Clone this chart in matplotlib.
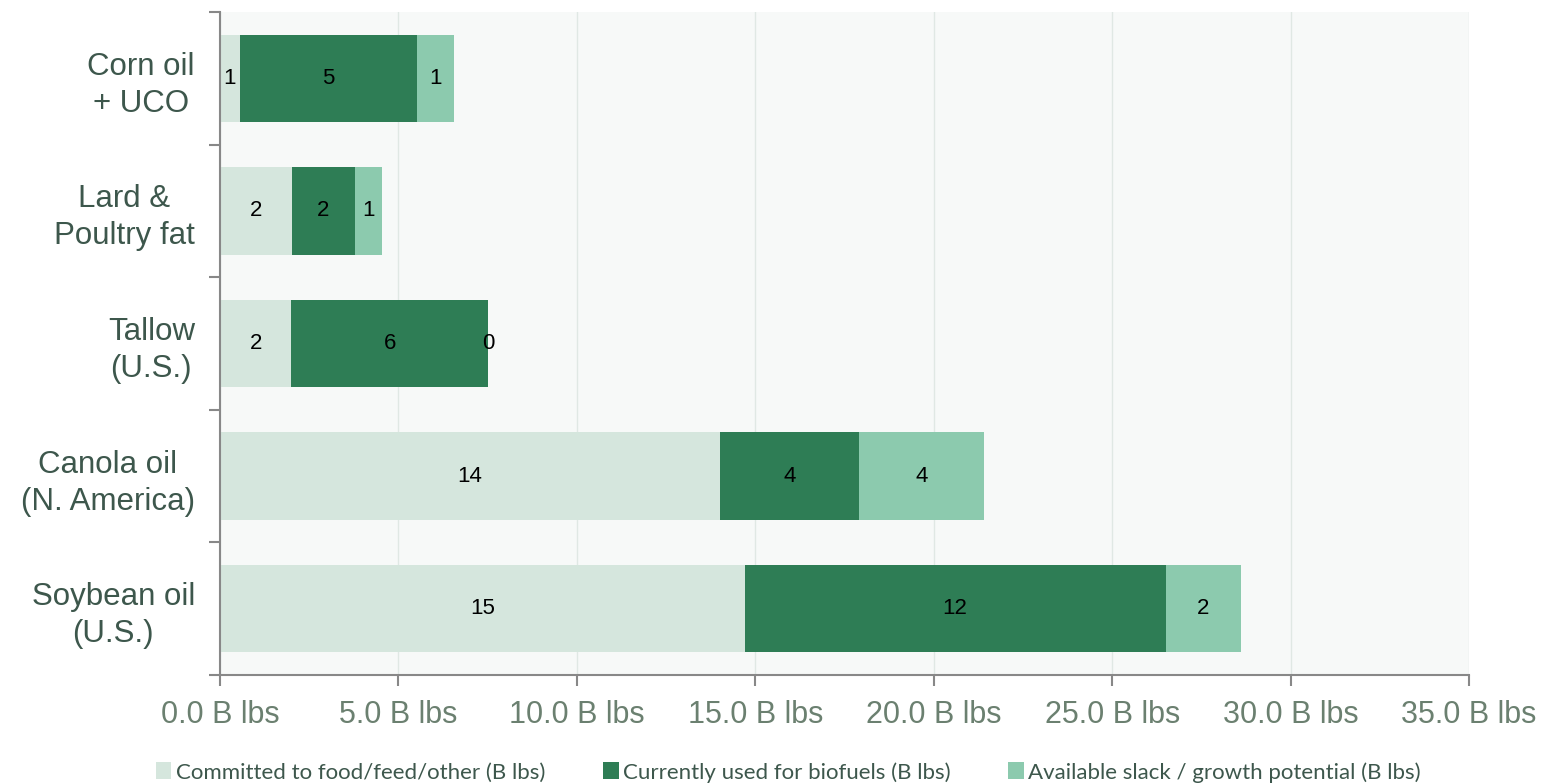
import matplotlib.pyplot as plt
import numpy as np

categories = ["Corn oil\n+ UCO", "Lard &\nPoultry fat", "Tallow\n(U.S.)",
              "Canola oil\n(N. America)", "Soybean oil\n(U.S.)"]
committed = [0.55, 2.02, 2.0, 14.0, 14.7]
biofuels = [4.97, 1.76, 5.52, 3.92, 11.8]
slack = [1.04, 0.76, 0.0, 3.5, 2.1]
series_names = ["Committed to food/feed/other (B lbs)",
                "Currently used for biofuels (B lbs)",
                "Available slack / growth potential (B lbs)"]
colors = ["#d5e6dd", "#2e7d55", "#8ccaae"]

plt.rcParams['font.family'] = ['Liberation Sans', 'DejaVu Sans']

fig = plt.figure(figsize=(15.47, 7.83), dpi=100)
ax = fig.add_axes([0.1422, 0.1379, 0.8074, 0.8468])
ax.set_facecolor("#f7f9f8")

y = np.arange(len(categories))
left = np.zeros(len(categories))
for vals, name, c in zip([committed, biofuels, slack], series_names, colors):
    bars = ax.barh(y, vals, left=left, height=0.66, color=c, label=name, zorder=2)
    ax.bar_label(bars, fmt="%.0f", label_type="center", fontsize=16, color="black")
    left += np.array(vals)

ax.set_ylim(len(categories) - 0.5, -0.5)
ax.set_xlim(0, 35)
ax.set_xticks(np.arange(0, 36, 5))
ax.set_xticklabels([f"{v:.1f} B lbs" for v in np.arange(0, 36, 5)])
ax.set_yticks(y)
ax.set_yticklabels(categories, fontsize=22.5, color="#3d574c", linespacing=1.3,
                   multialignment="center")
ax.set_yticks(np.arange(-0.5, len(categories)), minor=True)
ax.tick_params(axis="y", which="major", length=0, pad=18)
ax.tick_params(axis="y", which="minor", length=8, color="#888888", width=1.5)
ax.tick_params(axis="x", length=8, color="#888888", width=1.5, labelsize=22,
               labelcolor="#6b8070", pad=10)

for s in ["top", "right"]:
    ax.spines[s].set_visible(False)
for s in ["left", "bottom"]:
    ax.spines[s].set_color("#888888")
    ax.spines[s].set_linewidth(1.5)
ax.grid(axis="x", color="#e0e8e4", linewidth=1, zorder=0)
ax.set_axisbelow(True)

fig.legend(loc="lower center", bbox_to_anchor=(0.5097, -0.025), ncol=3, frameon=False,
           prop={"family": ["Lato", "DejaVu Sans"], "size": 16}, labelcolor="#3d574c",
           handlelength=0.7, handleheight=0.8, handletextpad=0.2, columnspacing=2.6)

fig.savefig("out.png", dpi=100, facecolor="white")
